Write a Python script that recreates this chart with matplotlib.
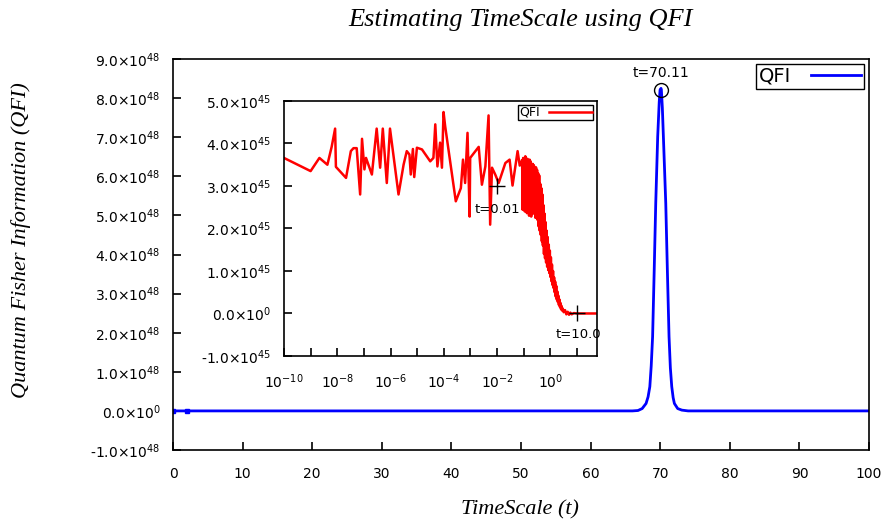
import numpy as np
import matplotlib
matplotlib.use("Agg")
import matplotlib.pyplot as plt
from matplotlib.ticker import FixedLocator, NullLocator

plt.rcParams['mathtext.default'] = 'regular'
plt.rcParams['font.family'] = 'DejaVu Sans'

# main curve: QFI vs time scale (peak near t = 70.11)
main_t = [0, 2, 10, 20, 30, 40, 50, 60, 66, 66.8, 67.4, 67.96, 68.25, 68.5, 68.7, 68.9, 69.13,
          69.35, 69.63, 69.85, 69.97, 70.11, 70.16, 70.3, 70.45, 70.79, 71.02, 71.26, 71.45,
          71.65, 71.85, 72.03, 72.5, 73.1, 74, 80, 90, 100]
main_qfi = [0, 0, 0, 0, 0, 0, 0, 0, 0, 0.01, 0.06, 0.19, 0.36, 0.62, 1.15, 1.90, 3.60,
            5.31, 7.01, 7.90, 8.21, 8.25, 8.21, 7.75, 7.01, 5.31, 3.60, 1.90, 1.10,
            0.62, 0.34, 0.19, 0.06, 0.02, 0, 0, 0, 0]  # x 1e48
main_dots_t = [0, 2]
peak_t, peak_qfi = 70.11, 8.21

main_yticks = [-1, 0, 1, 2, 3, 4, 5, 6, 7, 8, 9]
main_ylabels = ['-1.0×10$^{48}$', '0.0×10$^{0}$'] + \
    ['%d.0×10$^{48}$' % v for v in range(1, 10)]
main_xticks = [0, 10, 20, 30, 40, 50, 60, 70, 80, 90, 100]

# inset: log10(t) and QFI (x 1e45)
inset_log_t = [-10.00, -9.00, -8.67, -8.37, -8.21, -8.08, -8.05, -7.67, -7.49, -7.39, -7.27,
               -7.14, -7.07, -6.98, -6.92, -6.70, -6.52, -6.39, -6.29, -6.14, -6.02, -5.70,
               -5.51, -5.39, -5.29, -5.24, -5.16, -5.11, -5.01, -4.82, -4.51, -4.39, -4.32,
               -4.24, -4.14, -4.07, -4.01, -3.95, -3.55, -3.36, -3.28, -3.20, -3.11, -3.03,
               -3.01, -2.69, -2.57, -2.44, -2.32, -2.26, -2.19, -2.07, -1.94, -1.69, -1.53,
               -1.42, -1.23, -1.15,
               -1.06, -1.04, -1.02, -1.00, -0.98, -0.96, -0.94, -0.92, -0.90, -0.88, -0.86,
               -0.84, -0.82, -0.80, -0.78, -0.76, -0.74, -0.72, -0.70, -0.68, -0.66, -0.64,
               -0.62, -0.60, -0.58, -0.56, -0.54, -0.52, -0.50, -0.48, -0.46, -0.44, -0.42,
               -0.40, -0.38, -0.36, -0.34, -0.32, -0.30, -0.28, -0.26, -0.24, -0.22, -0.20,
               -0.18, -0.16, -0.14, -0.12, -0.10, -0.08, -0.06, -0.04, -0.02, 0.00, 0.02,
               0.04, 0.06, 0.08, 0.10, 0.12, 0.14, 0.16, 0.18, 0.20, 0.22, 0.24, 0.26,
               0.28, 0.30, 0.32, 0.34, 0.36, 0.38, 0.40, 0.42, 0.44, 0.46, 0.50, 0.55,
               0.60, 0.65, 0.70, 0.75, 0.80, 0.88, 1.00, 1.75]
inset_qfi = [3.66, 3.35, 3.66, 3.50, 3.92, 4.35, 3.45, 3.19, 3.82, 3.89, 3.89,
             2.80, 4.11, 3.39, 3.66, 3.27, 4.35, 3.43, 4.35, 3.07, 4.35, 2.80,
             3.50, 3.82, 3.74, 3.27, 3.87, 3.21, 3.90, 3.86, 3.58, 3.66, 4.45,
             3.46, 4.02, 3.43, 4.74, 4.41, 2.64, 2.95, 3.62, 3.07, 4.25, 2.28,
             3.66, 3.92, 3.03, 3.46, 4.66, 2.09, 3.43, 3.27, 3.07, 3.54, 3.62,
             3.01, 3.82, 3.48,
             3.61, 2.44, 3.66, 2.55, 3.62, 2.40, 3.70, 2.62, 3.58, 2.36, 3.64,
             2.50, 3.55, 2.30, 3.62, 2.45, 3.58, 2.28, 3.45, 2.60, 3.52, 2.35,
             3.49, 2.48, 3.40, 2.25, 3.44, 2.40, 3.38, 2.20, 3.30, 2.05, 3.25,
             1.95, 3.05, 1.85, 2.95, 1.70, 2.80, 1.60, 2.55, 1.40, 2.35, 1.30,
             2.15, 1.20, 1.95, 1.10, 1.80, 1.02, 1.62, 0.95, 1.48, 0.86, 1.32,
             0.76, 1.15, 0.67, 1.00, 0.60, 0.85, 0.50, 0.75, 0.40, 0.65, 0.33, 0.52,
             0.27, 0.42, 0.20, 0.33, 0.15, 0.25, 0.10, 0.18, 0.07, 0.12, 0.03, 0.08,
             -0.02, 0.04, -0.03, 0.02, -0.02, 0.01, 0.00, 0.00]
inset_marks_t = [0.01, 10.0]
inset_marks_qfi = [2.99, 0.0]

inset_yticks = [-1, 0, 1, 2, 3, 4, 5]
inset_ylabels = ['-1.0×10$^{45}$', '0.0×10$^{0}$'] + \
    ['%d.0×10$^{45}$' % v for v in range(1, 6)]
inset_xticks_exp = [-10, -9, -8, -7, -6, -5, -4, -3, -2, -1, 0, 1]
inset_xlabel_exp = [-10, -8, -6, -4, -2, 0]

fig = plt.figure(figsize=(8.86, 5.27), dpi=100)
ax = fig.add_axes([0.1953, 0.1461, 0.7856, 0.7419])

t = np.array(main_t)
q = np.array(main_qfi) * 1e48
ax.plot(t, q, color='blue', lw=2, label='QFI')
ax.plot(main_dots_t, [0, 0], 's', color='blue', ms=3)
ax.plot([peak_t], [peak_qfi * 1e48], 'o', mfc='none', mec='black', ms=10, mew=1)
ax.text(peak_t, peak_qfi * 1e48 + 0.25e48, 't=70.11', ha='center', va='bottom', fontsize=10)

ax.set_xlim(0, 100)
ax.set_ylim(-1e48, 9e48)
ax.xaxis.set_major_locator(FixedLocator(main_xticks))
ax.set_xticklabels([str(v) for v in main_xticks], fontsize=10)
ax.yaxis.set_major_locator(FixedLocator([v * 1e48 for v in main_yticks]))
ax.set_yticklabels(main_ylabels, fontsize=10)
ax.tick_params(direction='in', length=6, width=1.2, top=False, right=False, pad=9)
ax.tick_params(axis='x', pad=12)
for s in ax.spines.values():
    s.set_linewidth(1.2)

leg = ax.legend(loc='upper right', fontsize=14, markerfirst=False, fancybox=False,
                edgecolor='black', framealpha=1, borderpad=0.15, handlelength=2.6,
                borderaxespad=0.25, handletextpad=1.0)
leg.get_frame().set_linewidth(1.0)

fig.text(0.587, 0.962, 'Estimating TimeScale using QFI', ha='center', va='center',
         fontsize=19, style='italic', family='Liberation Serif')
fig.text(0.587, 0.032, 'TimeScale (t)', ha='center', va='center',
         fontsize=16, style='italic', family='Liberation Serif')
fig.text(0.024, 0.545, 'Quantum Fisher Information (QFI)', ha='center', va='center',
         rotation=90, fontsize=16, style='italic', family='Liberation Serif')

# inset
ins = fig.add_axes([0.3205, 0.3245, 0.3533, 0.4839])
it = 10.0 ** np.array(inset_log_t)
iq = np.array(inset_qfi) * 1e45
ins.plot(it, iq, color='red', lw=1.8, label='QFI')
ins.plot(inset_marks_t, [v * 1e45 for v in inset_marks_qfi], '+', color='black',
         ms=12, mew=1)
ins.text(0.01, 2.6e45, 't=0.01', ha='center', va='top', fontsize=9.5)
ins.text(11.0, -0.35e45, 't=10.0', ha='center', va='top', fontsize=9.5)

ins.set_xscale('log')
ins.set_xlim(1e-10, 10 ** 1.75)
ins.set_ylim(-1e45, 5e45)
ins.xaxis.set_major_locator(FixedLocator([10.0 ** e for e in inset_xticks_exp]))
ins.xaxis.set_minor_locator(NullLocator())
ins.set_xticklabels(['10$^{%d}$' % e if e in inset_xlabel_exp else '' for e in inset_xticks_exp],
                    fontsize=10)
ins.yaxis.set_major_locator(FixedLocator([v * 1e45 for v in inset_yticks]))
ins.set_yticklabels(inset_ylabels, fontsize=10)
ins.tick_params(direction='in', length=6, width=1.2, top=False, right=False, pad=9)
ins.tick_params(axis='x', pad=12)
for s in ins.spines.values():
    s.set_linewidth(1.2)

ileg = ins.legend(loc='upper right', fontsize=9, markerfirst=False, fancybox=False,
                  edgecolor='black', framealpha=1, borderpad=0.1, handlelength=3.4,
                  borderaxespad=0.3, handletextpad=0.8)
ileg.get_frame().set_linewidth(1.0)

fig.savefig('out.png', dpi=100)
